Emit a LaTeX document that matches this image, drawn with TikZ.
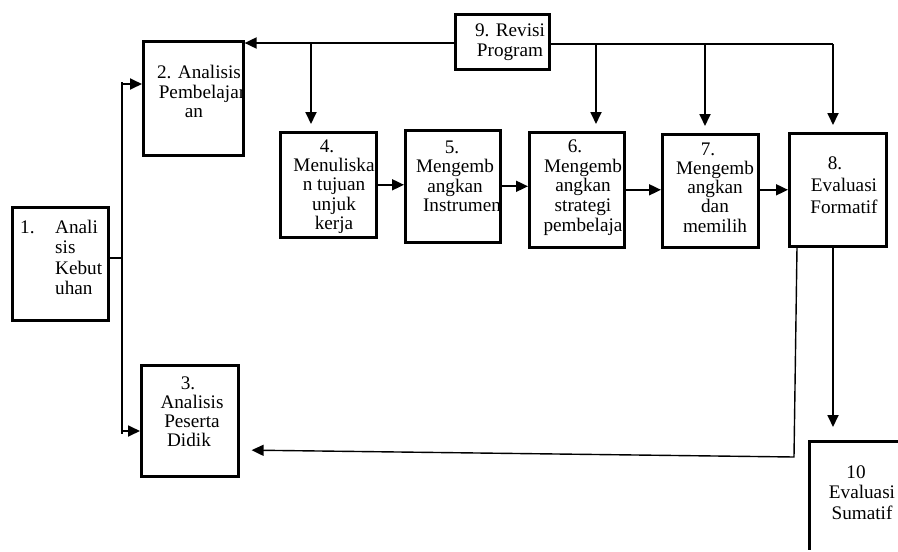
\documentclass[tikz,border=0pt]{standalone}
\usepackage{fontspec}
\setmainfont{Liberation Serif}
\usetikzlibrary{arrows.meta}

\begin{document}
\begin{tikzpicture}[x=1pt, y=-1pt,
  box/.style={draw, line width=2.6pt, inner sep=0pt, anchor=north west},
  lbl/.style={align=center, inner sep=0pt, font=\fontsize{19.2pt}{19.5pt}\selectfont},
  link/.style={line width=1.8pt, -{Triangle[length=12pt,width=11pt]}},
  thinline/.style={line width=1.1pt},
  feedback/.style={line width=1.4pt, -{Triangle[length=12pt,width=11pt]}},
]
\useasboundingbox (0,0) rectangle (898,552);
\clip (0,0) rectangle (898,549);

% boxes
\node[box, minimum width=96pt,  minimum height=113pt] (b1)  at (11,206)  {};
\node[box, minimum width=100pt, minimum height=114pt] (b2)  at (142,40)  {};
\node[box, minimum width=97pt,  minimum height=111pt] (b3)  at (140,364) {};
\node[box, minimum width=96pt,  minimum height=105pt] (b4)  at (279,131) {};
\node[box, minimum width=95pt,  minimum height=112pt] (b5)  at (404,129) {};
\node[box, minimum width=95pt,  minimum height=115pt] (b6)  at (528,131) {};
\node[box, minimum width=96pt,  minimum height=113pt] (b7)  at (661,133) {};
\node[box, minimum width=97pt,  minimum height=113pt] (b8)  at (788,132) {};
\node[box, minimum width=94pt,  minimum height=55pt]  (b9)  at (454,13)  {};
\node[box, minimum width=160pt, minimum height=160pt] (b10) at (808,440) {};

% labels
\node[lbl, anchor=west] (t1n) at (20,227) {1.};
\node[lbl, align=left, anchor=west, font=\fontsize{19.2pt}{20.3pt}\selectfont] (t1) at (55,257.5) {Anali\\sis\\Kebut\\uhan};
\node[lbl] (t2) at (199,91.5) {2. Analisis\\\hspace*{6pt}Pembelajar\\an\hspace*{10pt}};
\node[lbl, font=\fontsize{19.2pt}{19pt}\selectfont] (t3) at (192,411.5) {3.\hspace*{8pt}\\Analisis\\Peserta\\Didik\hspace*{6pt}};
\node[lbl, font=\fontsize{19.2pt}{19.25pt}\selectfont] (t4) at (334,186.5) {4.\hspace*{14pt}\\Menuliska\\n tujuan\\unjuk\\kerja};
\node[lbl] (t5) at (455,176.5) {5.\hspace*{6pt}\\Mengemb\\angkan\\\hspace*{14pt}Instrumen};
\node[lbl, font=\fontsize{19.2pt}{19.75pt}\selectfont] (t6) at (583,187.5) {6.\hspace*{16pt}\\Mengemb\\angkan\\strategi\\pembelaja};
\node[lbl, font=\fontsize{19.2pt}{19.25pt}\selectfont] (t7) at (715,187.5) {7.\hspace*{14pt}\\Mengemb\\angkan\\dan\hspace*{12pt}\\memilih};
\node[lbl, font=\fontsize{19.2pt}{22pt}\selectfont] (t8) at (844,185) {8.\hspace*{18pt}\\Evaluasi\\Formatif};
\node[lbl, font=\fontsize{19.2pt}{20pt}\selectfont] (t9) at (510,42) {9. Revisi\\Program};
\node[lbl, font=\fontsize{19.2pt}{20.5pt}\selectfont] (t10) at (862,492.5) {10\hspace*{12pt}\\Evaluasi\\Sumatif};

% trunk from box 1 to boxes 2 and 3
\coordinate (jtop) at (122,82);
\coordinate (jbot) at (122,434);
\coordinate (jmid) at (122,258);
\coordinate (j2) at (122,84);
\coordinate (j3) at (122,431);
\draw[thinline] (jtop) -- (jbot);
\draw[thinline] (b1.east |- jmid) -- (jmid);
\draw[link] (j2) -- (b2.west |- j2);
\draw[link] (j3) -- (b3.west |- j3);

% main chain
\draw[link] (b4.east) -- (b4.east -| b5.west);
\draw[link] (b5.east) -- (b5.east -| b6.west);
\draw[link] (b6.east) -- (b6.east -| b7.west);
\draw[link] (b7.east |- b8.west) -- (b8.west);

% revision lines from box 9
\coordinate (fl) at (0,43);
\coordinate (fr) at (833,44);
\coordinate (x4) at (311,43);
\coordinate (x6) at (596,44);
\coordinate (x7) at (705,44);
\draw[link] (b9.west |- fl) -- (b2.east |- fl);
\draw[link, shorten >=7pt] (x4) -- (x4 |- b4.north);
\draw[thinline] (b9.east |- fr) -- (fr);
\draw[link, shorten >=7pt] (x6) -- (x6 |- b6.north);
\draw[link, shorten >=7pt] (x7) -- (x7 |- b7.north);
\draw[link, shorten >=7pt] (fr) -- (fr |- b8.north);

% from box 8 back to box 3 and down to box 10
\coordinate (fs) at (797,0);
\coordinate (fk) at (794,457);
\coordinate (fe) at (0,450);
\coordinate (dx) at (833,0);
\draw[feedback, shorten >=12pt] (fs |- b8.south) -- (fk) -- (b3.east |- fe);
\draw[link, shorten >=13pt] (dx |- b8.south) -- (dx |- b10.north);
\end{tikzpicture}
\end{document}
